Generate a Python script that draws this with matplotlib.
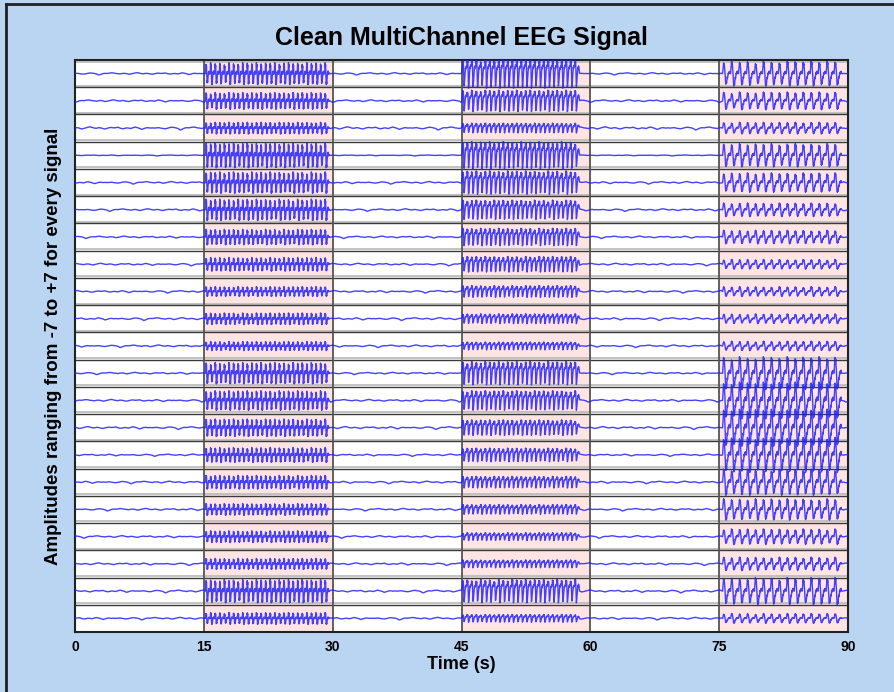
import numpy as np
import matplotlib
matplotlib.use("Agg")
import matplotlib.pyplot as plt
from matplotlib.lines import Line2D

plt.rcParams['font.family'] = ['Liberation Sans', 'DejaVu Sans']

# ---- chart data -------------------------------------------------------
n_channels = 21
half_range = 7.0                      # every trace spans -7 .. +7
x_ticks = [0, 15, 30, 45, 60, 75, 90]
shaded_windows = [(15, 30), (45, 60), (75, 90)]

# burst windows (s) and number of discharges in each
burst_start = [15.2, 45.1, 75.4]
burst_end = [29.6, 58.7, 89.3]
burst_cycles = [27, 26, 15]

# peak amplitude of each channel during each burst (top channel first)
amp_15_30 = [5.6, 4.3, 3.0, 6.4, 5.5, 5.5, 4.0, 3.5, 2.5, 3.0, 2.3,
             5.5, 5.0, 4.5, 3.8, 3.5, 3.0, 3.0, 2.8, 6.0, 3.0]
amp_45_60 = [7.5, 5.5, 2.5, 7.0, 6.0, 5.0, 4.5, 4.0, 3.0, 2.5, 2.0,
             6.0, 5.0, 4.0, 3.5, 3.0, 2.5, 2.0, 2.0, 6.0, 2.0]
amp_75_90 = [6.4, 4.6, 3.0, 6.0, 5.0, 3.5, 3.5, 2.5, 2.5, 2.5, 2.5,
             8.5, 9.5, 9.5, 9.0, 6.7, 5.5, 4.0, 3.5, 7.0, 2.5]

# one discharge of each burst type, normalised to +-1
spike_wave_fast = [0.0, 0.4, 1.0, 0.6, 0.85, 0.2, -0.5, -1.0, -0.75,
                   -0.95, -0.6, -0.3, -0.1, 0.15, 0.05, 0.25, 0.1,
                   -0.05, 0.1, 0.0]
spike_wave_mid = [0.55, 1.0, 0.75, 0.95, 0.6, -0.3, -1.0, -0.85, -0.5,
                  -0.1, 0.2, 0.45, 0.35, 0.55, 0.6, 0.5]
slow_spike_wave = [0.0, 0.35, 0.8, 1.0, 0.7, 0.9, 0.6, 0.2, -0.4, -0.8,
                   -1.0, -0.75, -0.9, -0.6, -0.3, -0.4, -0.15, 0.05,
                   -0.05, 0.15, 0.05, 0.2, 0.05, 0.0]

# discharge-to-discharge amplitude changes
cycle_gain = [0.85, 1.0, 0.9, 0.95, 0.8, 1.0, 0.9, 0.85, 1.0, 0.95,
              0.9, 1.0, 0.88, 0.97, 0.92, 1.0, 0.86, 0.95, 1.0, 0.9,
              0.94, 0.85, 1.0, 0.92, 0.97, 0.88, 1.0, 0.9, 0.95, 0.87]

# background activity, one value every 0.25 s (15 s loop)
background = [0.05, 0.1, 0.0, -0.1, -0.15, -0.05, 0.1, 0.2, 0.15, 0.05,
              -0.1, -0.45, -0.25, 0.0, 0.1, 0.05, 0.15, 0.25, 0.2, 0.05,
              0.0, -0.1, 0.05, 0.1, 0.0, -0.2, -0.1, 0.05, 0.2, 0.3,
              0.15, 0.0, -0.05, 0.1, 0.05, -0.1, -0.2, -0.05, 0.1, 0.15,
              0.05, 0.1, 0.2, 0.0, -0.15, -0.1, 0.05, 0.0, -0.1, 0.1,
              0.25, 0.1, -0.05, -0.3, -0.15, 0.05, 0.1, 0.0, 0.05, 0.0]
background_gain = [1.6, 1.8, 2.2, 0.7, 1.8, 1.8, 1.7, 1.8, 1.8, 2.0, 1.8,
                   1.6, 1.8, 2.0, 1.6, 1.8, 1.8, 1.8, 1.8, 2.0, 1.8]
background_step = 0.25

burst_amps = [amp_15_30, amp_45_60, amp_75_90]
burst_shapes = [spike_wave_fast, spike_wave_mid, slow_spike_wave]

# ---- figure -----------------------------------------------------------
fig = plt.figure(figsize=(8.94, 6.92), dpi=100, facecolor='#BAD5F2')
ax = fig.add_axes([75 / 894, 1 - 632 / 692, 773 / 894, 572 / 692])
ax.set_facecolor('white')

row_h = 2 * half_range
y_top = n_channels * row_h
ax.set_xlim(0, 90)
ax.set_ylim(0, y_top)

for a, b in shaded_windows:
    ax.axvspan(a, b, color='#FFE4E4', zorder=0, lw=0)

# row separators: grey rule just above each dark one
gap = 1.6 * row_h / 27.2
for k in range(1, n_channels):
    yb = k * row_h
    ax.axhline(yb + gap, color='#BDBDBD', lw=1.3, zorder=1)
    ax.axhline(yb, color='#3A3A3A', lw=1.0, zorder=1)
ax.axhline(y_top - gap, color='#BDBDBD', lw=1.3, zorder=1)

for xv in [15, 30, 45, 60, 75]:
    ax.axvline(xv, color='#555555', lw=1.3, zorder=1)

n_bg = len(background)
for ch in range(n_channels):
    base = y_top - (ch + 0.5) * row_h
    # background samples
    idx = np.arange(int(90 / background_step) + 1)
    t_bg = idx * background_step
    v_bg = np.array([background[(i + 11 * ch) % n_bg] for i in idx]) * background_gain[ch]
    keep = np.ones_like(t_bg, dtype=bool)
    for s, e in zip(burst_start, burst_end):
        keep &= ~((t_bg > s) & (t_bg < e))
    ts = [t_bg[keep]]
    vs = [v_bg[keep]]
    # discharge samples
    for seg in range(3):
        shape = burst_shapes[seg]
        m = len(shape)
        period = (burst_end[seg] - burst_start[seg]) / burst_cycles[seg]
        amp = burst_amps[seg][ch]
        for c in range(burst_cycles[seg]):
            g = cycle_gain[(c + 3 * ch) % len(cycle_gain)]
            t0 = burst_start[seg] + c * period
            ts.append(t0 + np.arange(m) * period / m)
            vs.append(np.array(shape) * amp * g)
    t = np.concatenate(ts)
    v = np.concatenate(vs)
    order = np.argsort(t)
    ax.plot(t[order], base + v[order], color='#2222FF', lw=1.0, alpha=0.85,
            zorder=3)

for sp in ax.spines.values():
    sp.set_color('#222222')
    sp.set_linewidth(1.5)

ax.set_yticks([])
ax.set_xticks(x_ticks)
ax.set_xticklabels([str(v) for v in x_ticks], fontsize=10, fontweight='bold')
ax.tick_params(axis='x', length=0, pad=6)
ax.set_xlabel('Time (s)', fontsize=13, fontweight='bold', labelpad=1)
ax.set_ylabel('Amplitudes ranging from -7 to +7 for every signal',
              fontsize=13.5, fontweight='bold', labelpad=9)
fig.text(461.5 / 894, 1 - 38 / 692, 'Clean MultiChannel EEG Signal',
         ha='center', va='center', fontsize=18, fontweight='bold')

# outer frame
fig.add_artist(Line2D([6 / 894, 6 / 894], [0, 1 - 4 / 692], transform=fig.transFigure,
                      color='#202020', lw=2))
fig.add_artist(Line2D([6 / 894, 1], [1 - 4 / 692, 1 - 4 / 692], transform=fig.transFigure,
                      color='#202020', lw=2))

fig.savefig('out.png', dpi=100, facecolor=fig.get_facecolor())
